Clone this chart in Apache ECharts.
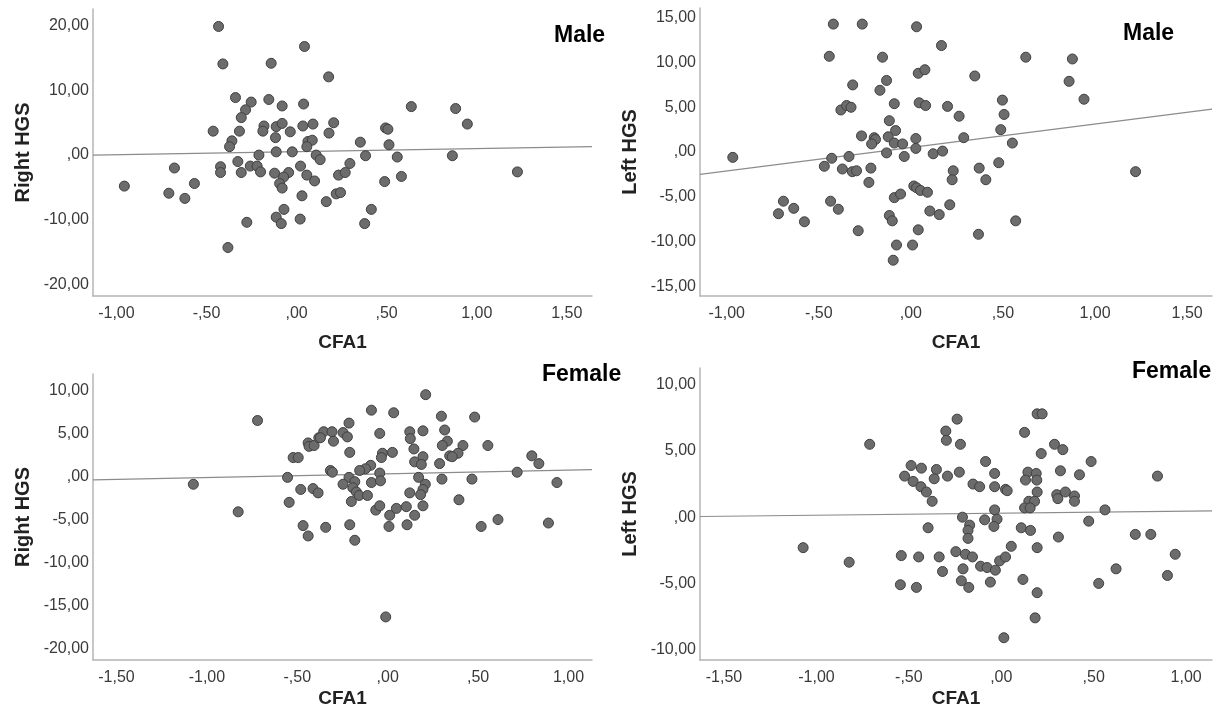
<!DOCTYPE html>
<html>
<head>
<meta charset="utf-8">
<title>CFA1 vs HGS</title>
<script src="https://cdn.jsdelivr.net/npm/echarts@6/dist/echarts.min.js"></script>
<style>
  html, body { margin: 0; padding: 0; background: #fff; }
  #main { width: 1223px; height: 720px; }
</style>
</head>
<body>
<div id="main"></div>
<script>
// points: [CFA1, HGS]
var maleRight = [
  [-0.433,19.9],[-0.409,14.1],[0.044,16.8],[-0.141,14.2],[-0.339,8.9],[-0.252,8.2],[-0.283,7.0],[-0.307,5.8],
  [-0.154,8.6],[-0.080,7.6],[0.039,7.9],[-0.463,3.7],[-0.317,3.7],[-0.359,2.2],[-0.372,1.3],[-0.181,4.5],
  [-0.187,3.7],[-0.113,4.4],[-0.080,4.9],[-0.117,2.7],[-0.035,3.6],[0.035,4.5],[0.091,4.8],[0.063,2.1],
  [0.087,2.3],[0.057,1.3],[-0.209,0.0],[-0.113,0.5],[-0.024,0.5],[0.109,0.0],[-0.326,-1.0],[-0.422,-1.8],
  [-0.422,-2.7],[-0.257,-1.7],[-0.219,-1.7],[-0.307,-2.7],[-0.200,-2.6],[-0.678,-2.0],[-0.956,-4.8],[-0.709,-5.9],
  [-0.620,-6.7],[-0.567,-4.4],[0.022,-1.7],[-0.122,-2.8],[-0.044,-2.7],[-0.072,-3.4],[-0.094,-4.4],[-0.080,-5.1],
  [0.057,-3.1],[0.100,-4.0],[0.030,-6.3],[-0.070,-8.4],[-0.113,-9.6],[-0.085,-10.6],[-0.276,-10.4],[0.020,-9.9],
  [-0.381,-14.3],[0.178,12.1],[0.637,7.5],[0.883,7.2],[0.948,4.8],[0.206,5.0],[0.180,3.4],[0.494,4.2],
  [0.507,4.0],[0.354,2.0],[0.513,1.6],[0.131,-0.7],[0.383,-0.1],[0.559,-0.3],[0.865,-0.1],[0.296,-1.3],
  [0.233,-3.1],[0.270,-2.7],[0.582,-3.3],[0.489,-4.1],[1.226,-2.6],[0.220,-6.0],[0.244,-5.8],[0.165,-7.2],
  [0.415,-8.4],[0.378,-10.6]
];
var maleLeft = [
  [-0.967,-0.6],[-0.421,14.3],[-0.264,14.3],[0.031,14.0],[-0.443,10.7],[-0.154,10.6],[-0.132,8.0],[0.040,8.8],
  [-0.316,7.5],[-0.168,6.9],[-0.090,5.4],[0.045,5.5],[-0.380,4.7],[-0.349,5.2],[-0.325,5.0],[-0.117,3.5],
  [-0.083,2.4],[-0.268,1.8],[-0.199,1.6],[-0.192,1.4],[-0.213,0.9],[-0.123,1.7],[-0.090,1.0],[-0.045,0.9],
  [0.027,1.5],[0.027,0.4],[-0.132,-0.1],[-0.430,-0.7],[-0.336,-0.5],[-0.036,-0.5],[-0.470,-1.6],[-0.372,-1.9],
  [-0.318,-2.2],[-0.295,-2.1],[-0.217,-1.8],[-0.228,-3.4],[-0.692,-5.5],[-0.719,-6.9],[-0.636,-6.3],[-0.578,-7.8],
  [-0.436,-5.5],[-0.394,-6.4],[-0.090,-5.1],[-0.056,-4.7],[0.016,-3.8],[-0.117,-7.1],[-0.101,-7.7],[-0.286,-8.8],
  [0.040,-8.7],[-0.078,-10.4],[0.009,-10.4],[-0.096,-12.1],[0.166,11.9],[0.624,10.6],[0.877,10.4],[0.076,9.2],
  [0.347,8.5],[0.859,7.9],[0.940,5.9],[0.080,5.2],[0.199,5.1],[0.262,4.0],[0.497,5.8],[0.506,4.2],
  [0.488,2.5],[0.287,1.6],[0.121,-0.2],[0.172,0.1],[0.551,1.0],[0.477,-1.2],[1.220,-2.2],[0.371,-1.8],
  [0.407,-3.1],[0.230,-2.1],[0.224,-3.1],[0.031,-4.0],[0.052,-4.3],[0.090,-4.5],[0.103,-6.6],[0.154,-7.0],
  [0.211,-5.9],[0.569,-7.7],[0.367,-9.2]
];
var femaleRight = [
  [-0.720,6.5],[-1.075,-0.9],[-0.827,-4.1],[-0.554,-0.1],[-0.545,-3.0],[-0.523,2.2],[-0.495,2.2],[-0.481,-1.5],
  [-0.468,-5.7],[-0.440,-6.9],[-0.440,3.9],[-0.435,3.5],[-0.407,3.6],[-0.413,-1.4],[-0.385,-1.9],[-0.381,4.5],
  [0.210,9.5],[-0.090,7.7],[0.033,7.4],[0.297,7.0],[0.481,6.9],[-0.214,6.2],[-0.354,5.2],[-0.308,5.2],
  [-0.247,5.1],[-0.223,4.6],[-0.372,4.5],[-0.300,4.1],[-0.044,5.0],[0.122,5.2],[0.195,5.3],[0.125,4.4],
  [0.315,5.4],[0.330,4.1],[0.302,3.6],[0.416,3.6],[0.554,3.6],[0.145,3.2],[-0.210,2.8],[-0.029,2.7],
  [0.026,2.8],[-0.035,2.2],[0.389,2.7],[0.343,2.4],[0.357,2.3],[0.195,2.3],[0.149,1.7],[0.186,1.4],
  [0.287,1.5],[0.797,2.4],[0.836,1.5],[-0.094,1.3],[-0.123,0.9],[-0.155,0.7],[-0.317,0.7],[-0.306,0.5],
  [-0.044,0.4],[-0.090,-0.7],[-0.040,-0.5],[-0.214,-0.1],[-0.182,-0.6],[-0.247,-0.9],[-0.193,-1.3],[-0.173,-1.8],
  [-0.158,-2.2],[-0.112,-2.2],[-0.201,-2.9],[0.171,-0.1],[0.208,-0.9],[0.195,-1.5],[0.182,-2.1],[0.195,-3.4],
  [0.122,-1.9],[0.300,-0.3],[0.466,-0.3],[0.716,0.5],[0.936,-0.7],[0.394,-2.7],[-0.066,-3.9],[-0.044,-3.4],
  [0.011,-4.5],[0.048,-3.7],[0.103,-3.5],[0.149,-4.5],[0.007,-5.8],[0.107,-5.6],[-0.210,-5.6],[-0.343,-5.9],
  [-0.182,-7.4],[0.517,-5.8],[0.610,-5.0],[0.889,-5.4],[-0.011,-16.3]
];
var femaleLeft = [
  [-0.712,5.5],[-1.072,-2.3],[-0.823,-3.4],[-0.541,-2.9],[-0.546,-5.1],[-0.459,-5.3],[-0.447,-3.0],[-0.523,3.1],
  [-0.488,3.9],[-0.477,2.7],[0.194,7.8],[0.221,7.8],[-0.239,7.4],[-0.300,6.5],[-0.297,5.8],[-0.221,5.5],
  [0.126,6.4],[0.288,5.5],[0.333,5.1],[0.216,4.8],[0.486,4.2],[-0.085,4.2],[-0.432,3.7],[-0.351,3.6],
  [-0.363,2.9],[-0.435,2.3],[-0.405,1.9],[-0.374,1.2],[-0.291,3.1],[-0.227,3.4],[-0.036,3.3],[-0.153,2.5],
  [-0.117,2.3],[-0.036,2.3],[0.023,2.1],[0.032,2.0],[0.144,3.4],[0.131,2.8],[0.189,3.3],[0.192,2.8],
  [0.194,1.9],[0.320,3.5],[0.423,3.2],[0.300,1.7],[0.306,1.4],[0.347,1.9],[0.396,1.6],[0.396,1.2],
  [0.845,3.1],[0.149,1.2],[0.180,1.2],[0.126,0.7],[0.156,0.7],[-0.036,0.55],[-0.210,0.0],[-0.090,-0.2],
  [-0.023,-0.15],[-0.040,-0.7],[-0.171,-0.6],[-0.180,-1.0],[-0.180,-1.6],[-0.396,-0.8],[0.108,-0.8],[0.158,-1.0],
  [0.473,-0.3],[0.561,0.55],[0.309,-1.5],[0.725,-1.3],[0.809,-1.3],[0.054,-2.2],[0.194,-2.3],[-0.336,-3.0],
  [-0.246,-2.6],[-0.194,-2.8],[-0.156,-3.0],[-0.318,-4.1],[-0.207,-3.9],[-0.112,-3.7],[-0.077,-3.8],[-0.032,-4.0],
  [-0.009,-3.3],[0.023,-3.0],[-0.216,-4.8],[-0.176,-5.3],[-0.059,-4.9],[0.117,-4.7],[0.194,-5.7],[0.527,-5.0],
  [0.621,-3.9],[0.941,-2.8],[0.899,-4.4],[0.183,-7.6],[0.014,-9.1]
];

// fit lines, end points
var maleRightFit = [[-1.13, 0.0], [1.64, 1.3]];
var maleLeftFit = [[-1.145, -2.5], [1.635, 4.8]];
var femaleRightFit = [[-1.63, -0.4], [1.13, 0.8]];
var femaleLeftFit = [[-1.63, 0.05], [1.14, 0.48]];

var maleTicksX = [-1, -0.5, 0, 0.5, 1, 1.5];
var femaleTicksX = [-1.5, -1, -0.5, 0, 0.5, 1];
var maleRightTicksY = [-20, -10, 0, 10, 20];
var maleLeftTicksY = [-15, -10, -5, 0, 5, 10, 15];
var femaleRightTicksY = [-20, -15, -10, -5, 0, 5, 10];
var femaleLeftTicksY = [-10, -5, 0, 5, 10];

var panelTitles = ['Male', 'Male', 'Female', 'Female'];
var yNames = ['Right HGS', 'Left HGS', 'Right HGS', 'Left HGS'];

var chartDom = document.getElementById('main');
var myChart = echarts.init(chartDom);
var option;

var FONT = '"Liberation Sans", Arial, sans-serif';

// spss style: 0.5 -> ",50", -1 -> "-1,00"
function spssFmt(v) {
  var s = Math.abs(v).toFixed(2).replace('.', ',');
  if (s.indexOf('0,') === 0) s = s.slice(1);
  return (v < 0 ? '-' : '') + s;
}

var grids = [
  { left: 93, top: 9, width: 499, height: 287 },
  { left: 700, top: 8, width: 512, height: 288 },
  { left: 93, top: 374, width: 499, height: 286 },
  { left: 700, top: 368, width: 512, height: 292 }
];
var xRanges = [[-1.13, 1.64], [-1.145, 1.635], [-1.63, 1.13], [-1.63, 1.14]];
var yRanges = [[-21.8, 22.6], [-16.1, 16.1], [-21.3, 11.9], [-10.78, 11.26]];
var xTicks = [maleTicksX, maleTicksX, femaleTicksX, femaleTicksX];
var yTicks = [maleRightTicksY, maleLeftTicksY, femaleRightTicksY, femaleLeftTicksY];
var xNameGaps = [37, 37, 29, 29];
var points = [maleRight, maleLeft, femaleRight, femaleLeft];
var fits = [maleRightFit, maleLeftFit, femaleRightFit, femaleLeftFit];
var titlePos = [[549, 19], [1118, 17], [537, 358], [1127, 355]];

var axisLine = { show: true, onZero: false, lineStyle: { color: '#b4b4b4', width: 1.5 } };

var xAxes = [], yAxes = [], series = [], titles = [];
for (var i = 0; i < 4; i++) {
  xAxes.push({
    type: 'value', gridIndex: i, min: xRanges[i][0], max: xRanges[i][1],
    name: 'CFA1', nameLocation: 'middle', nameGap: xNameGaps[i],
    nameTextStyle: { fontFamily: FONT, fontSize: 19, fontWeight: 'bold', color: '#222' },
    axisLine: axisLine, axisTick: { show: false }, splitLine: { show: false },
    axisLabel: {
      customValues: xTicks[i], formatter: spssFmt, margin: 10,
      fontFamily: FONT, fontSize: 16, color: '#3a3a3a'
    }
  });
  yAxes.push({
    type: 'value', gridIndex: i, min: yRanges[i][0], max: yRanges[i][1],
    name: yNames[i], nameLocation: 'middle', nameGap: 60, nameRotate: 90,
    nameTextStyle: { fontFamily: FONT, fontSize: 20, fontWeight: 'bold', color: '#222' },
    axisLine: axisLine, axisTick: { show: false }, splitLine: { show: false },
    axisLabel: {
      customValues: yTicks[i], formatter: spssFmt, margin: 4,
      fontFamily: FONT, fontSize: 16, color: '#3a3a3a'
    }
  });
  series.push({
    type: 'line', xAxisIndex: i, yAxisIndex: i, data: fits[i],
    symbol: 'none', silent: true, z: 1,
    lineStyle: { color: '#8c8c8c', width: 1.2 }
  });
  series.push({
    type: 'scatter', xAxisIndex: i, yAxisIndex: i, data: points[i],
    symbolSize: 10, z: 2,
    itemStyle: { color: '#6c6c6c', borderColor: '#404040', borderWidth: 1, opacity: 1 }
  });
  titles.push({
    text: panelTitles[i], left: titlePos[i][0], top: titlePos[i][1],
    textStyle: { fontFamily: FONT, fontSize: 23, fontWeight: 'bold', color: '#000' }
  });
}

option = {
  animation: false,
  backgroundColor: '#fff',
  title: titles,
  grid: grids,
  xAxis: xAxes,
  yAxis: yAxes,
  series: series
};

option && myChart.setOption(option);
</script>
</body>
</html>
